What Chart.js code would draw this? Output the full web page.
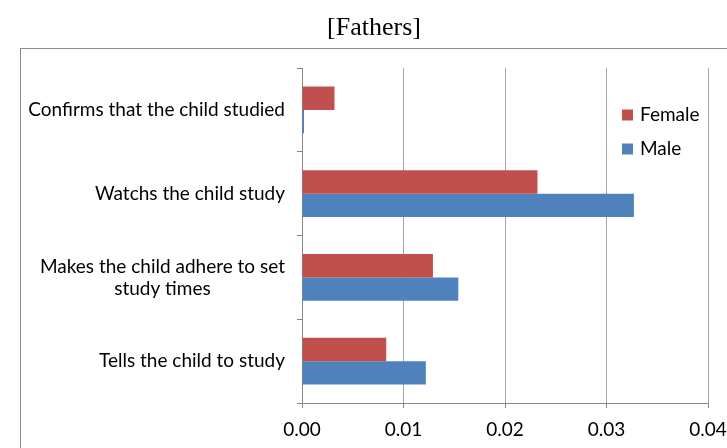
<!DOCTYPE html>
<html>
<head>
<meta charset="utf-8">
<script src="https://cdn.jsdelivr.net/npm/chart.js@4.4.1/dist/chart.umd.min.js"></script>
<style>
  html, body { margin: 0; padding: 0; overflow: hidden; background: #fff; }
  canvas { display: block; }
</style>
</head>
<body>
<canvas id="chart" width="760" height="448"></canvas>
<script>
// Chart content
const titleText = '[Fathers]';
const categories = [
  'Confirms that the child studied',
  'Watchs the child study',
  ['Makes the child adhere to set', 'study times'],
  'Tells the child to study'
];
const seriesNames = ['Female', 'Male'];
const femaleValues = [0.0032, 0.0232, 0.0129, 0.0083];
const maleValues = [0.0002, 0.0327, 0.0154, 0.0122];
const xTickValues = [0, 0.01, 0.02, 0.03, 0.04];

// Styling
const seriesColors = ['#C0504D', '#4F81BD'];
const LABEL_FAMILY = 'Lato, "Open Sans", sans-serif';
const LABEL_SIZE = 19;
const LABEL_FONT = LABEL_SIZE + 'px ' + LABEL_FAMILY;
const AXIS_GRAY = '#868686';
const GRID_GRAY = '#a6a6a6';

// Frame around the whole chart
const chartFrame = {
  id: 'chartFrame',
  beforeDraw(chart) {
    const ctx = chart.ctx;
    ctx.save();
    ctx.fillStyle = '#fff';
    ctx.fillRect(0, 0, chart.width, chart.height);
    ctx.strokeStyle = '#8c8c8c';
    ctx.lineWidth = 1;
    ctx.strokeRect(20.5, 48.5, chart.width, chart.height);
    ctx.restore();
  }
};

// Category labels: block right-aligned to the axis, lines centred within the block
const categoryLabels = {
  id: 'categoryLabels',
  afterDraw(chart) {
    const ctx = chart.ctx;
    const yScale = chart.scales.y;
    const right = yScale.right - 17;
    const lineH = 22;
    ctx.save();
    ctx.font = LABEL_FONT;
    ctx.fillStyle = '#000';
    ctx.textAlign = 'center';
    ctx.textBaseline = 'middle';
    chart.data.labels.forEach((label, i) => {
      const lines = Array.isArray(label) ? label : [label];
      const w = Math.max(...lines.map(l => ctx.measureText(l).width));
      const cx = right - w / 2;
      const cy = yScale.getPixelForTick(i);
      lines.forEach((l, k) => {
        ctx.fillText(l, cx, cy + (k - (lines.length - 1) / 2) * lineH);
      });
    });
    ctx.restore();
  }
};

// Legend placed inside the plot, upper right
const innerLegend = {
  id: 'innerLegend',
  afterDraw(chart) {
    const ctx = chart.ctx;
    const x0 = 622, y0 = 115, gap = 34, box = 11;
    ctx.save();
    ctx.font = LABEL_FONT;
    ctx.textAlign = 'left';
    ctx.textBaseline = 'middle';
    chart.data.datasets.forEach((ds, i) => {
      const cy = y0 + i * gap;
      ctx.fillStyle = ds.backgroundColor;
      ctx.fillRect(x0, cy - box / 2, box, box);
      ctx.fillStyle = '#000';
      ctx.fillText(ds.label, x0 + 18, cy);
    });
    ctx.restore();
  }
};

new Chart(document.getElementById('chart'), {
  type: 'bar',
  data: {
    labels: categories,
    datasets: [
      { label: seriesNames[0], data: femaleValues, backgroundColor: seriesColors[0] },
      { label: seriesNames[1], data: maleValues, backgroundColor: seriesColors[1] }
    ]
  },
  options: {
    indexAxis: 'y',
    responsive: false,
    animation: false,
    devicePixelRatio: 1,
    layout: { padding: { left: 40, right: 52, top: 0, bottom: 0 } },
    datasets: {
      bar: { categoryPercentage: 0.56, barPercentage: 1.0, borderWidth: 0 }
    },
    plugins: {
      legend: { display: false },
      tooltip: { enabled: false },
      title: {
        display: true,
        text: titleText,
        color: '#000',
        font: { family: '"Liberation Serif", "Times New Roman", serif', size: 26, weight: 'normal', lineHeight: 1.2 },
        padding: { top: 12.4, bottom: 24.4 }
      }
    },
    scales: {
      x: {
        type: 'linear',
        min: 0,
        max: 0.04,
        afterBuildTicks: s => { s.ticks = xTickValues.map(v => ({ value: v })); },
        afterFit: s => { s.height = 45; },
        ticks: {
          color: '#000',
          font: { family: LABEL_FAMILY, size: LABEL_SIZE },
          padding: 10,
          maxRotation: 0,
          callback: v => Number(v).toFixed(2)
        },
        grid: { color: GRID_GRAY, tickColor: AXIS_GRAY, tickLength: 5, lineWidth: 1 },
        border: { color: AXIS_GRAY, width: 1 }
      },
      y: {
        type: 'category',
        afterFit: s => { s.width = 262; },
        ticks: { display: false },
        grid: { offset: true, drawOnChartArea: false, color: AXIS_GRAY, tickLength: 5 },
        border: { color: AXIS_GRAY, width: 1 }
      }
    }
  },
  plugins: [chartFrame, categoryLabels, innerLegend]
});
</script>
</body>
</html>
